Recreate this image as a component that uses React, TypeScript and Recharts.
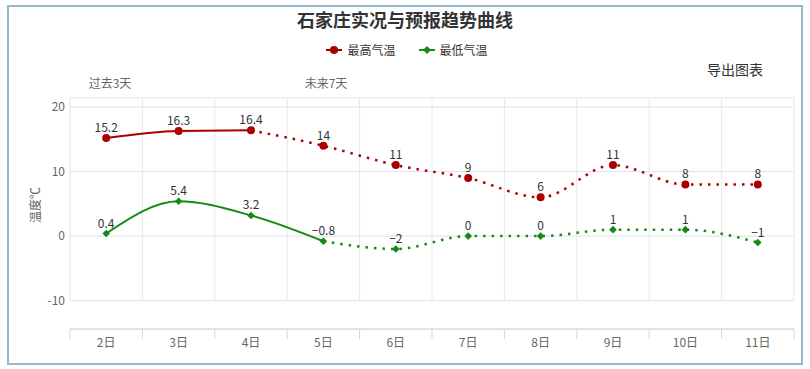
import React from 'react';
import { LineChart, Line, XAxis, YAxis, CartesianGrid, ReferenceLine, LabelList } from 'recharts';

const days = ['2日', '3日', '4日', '5日', '6日', '7日', '8日', '9日', '10日', '11日'];
const maxTemps = [15.2, 16.3, 16.4, 14, 11, 9, 6, 11, 8, 8];
const minTemps = [0.4, 5.4, 3.2, -0.8, -2, 0, 0, 1, 1, -1];
const maxObservedCount = 3;
const minObservedCount = 4;
const yTicks = [-10, 0, 10, 20];
const yDomain: [number, number] = [-14.4, 21.4];
const seriesNames = ['最高气温', '最低气温'];
const periodLabels = ['过去3天', '未来7天'];
const titleText = '石家庄实况与预报趋势曲线';
const yAxisTitle = '温度℃';
const exportText = '导出图表';

const RED = '#ab0000';
const GREEN = '#168a16';
const FONT = '"Noto Sans CJK SC", "Noto Sans", sans-serif';

const data = days.map((day, i) => ({
  day,
  pos: i + 0.5,
  max: maxTemps[i],
  min: minTemps[i],
  maxObs: i < maxObservedCount ? maxTemps[i] : null,
  maxFc: i >= maxObservedCount - 1 ? maxTemps[i] : null,
  minObs: i < minObservedCount ? minTemps[i] : null,
  minFc: i >= minObservedCount - 1 ? minTemps[i] : null,
}));

const boundaries = Array.from({ length: days.length + 1 }, (_, k) => k);

const fmt = (v: any) => String(v).replace('-', '\u2212');

const XTick = (props: any) => {
  const { x, y, payload, index, visibleTicksCount, width } = props;
  const half = payload && payload.offset ? payload.offset : width / visibleTicksCount / 2;
  const isLast = index === visibleTicksCount - 1;
  return (
    <g>
      <line x1={x - half} x2={x - half} y1={y} y2={y + 10} stroke="#ccd6eb" strokeWidth={1} />
      {isLast && <line x1={x + half} x2={x + half} y1={y} y2={y + 10} stroke="#ccd6eb" strokeWidth={1} />}
      <text x={x} y={y + 18} textAnchor="middle" fill="#666" fontSize={12} fontFamily={FONT}>
        {payload.value}
      </text>
    </g>
  );
};

const Diamond = (props: any) => {
  const { cx, cy } = props;
  if (cx == null || cy == null) return <g />;
  const r = 3.8;
  return <path d={`M${cx},${cy - r}L${cx + r},${cy}L${cx},${cy + r}L${cx - r},${cy}Z`} fill={GREEN} />;
};

const LegendIcon = ({ color, diamond }: { color: string; diamond?: boolean }) => (
  <svg width={16} height={10} style={{ display: 'block' }}>
    <line x1={0} x2={16} y1={5} y2={5} stroke={color} strokeWidth={2} />
    {diamond ? <path d="M8,1L12,5L8,9L4,5Z" fill={color} /> : <circle cx={8} cy={5} r={4} fill={color} />}
  </svg>
);

export default function App() {
  return (
    <div style={{ position: 'absolute', left: 0, top: 0, width: 810, height: 369, background: '#fff', fontFamily: FONT, overflow: 'hidden' }}>
      <div style={{ position: 'absolute', left: 7, top: 5, width: 796, height: 360, boxSizing: 'border-box', border: '2px solid #97b9cc' }} />
      <div style={{ position: 'absolute', left: 0, top: 0 }}>
        <LineChart width={810} height={369} data={data} margin={{ top: 98, right: 16, bottom: 10, left: 0 }}>
          <CartesianGrid vertical={false} stroke="#dde1e8" />
          <XAxis xAxisId="g" dataKey="pos" type="number" domain={[0, days.length]} hide allowDataOverflow />
          <XAxis
            dataKey="day"
            scale="band"
            height={30}
            axisLine={{ stroke: '#ccd6eb' }}
            tickLine={false}
            tickSize={0}
            tickMargin={0}
            interval={0}
            tick={<XTick />}
          />
          <YAxis
            width={70}
            domain={yDomain}
            ticks={yTicks}
            allowDataOverflow
            axisLine={false}
            tickLine={false}
            tickSize={0}
            tickMargin={5}
            tick={{ fill: '#666', fontSize: 12, fontFamily: FONT }}
          />
          {boundaries.map((k) => (
            <ReferenceLine
              key={'v' + k}
              xAxisId="g"
              segment={[{ x: k, y: yTicks[0] }, { x: k, y: yDomain[1] }]}
              stroke="#e6e8ee"
              strokeWidth={1}
              ifOverflow="visible"
            />
          ))}
          <Line type="monotone" dataKey="maxObs" stroke={RED} strokeWidth={2} dot={false} activeDot={false} isAnimationActive={false} />
          <Line type="monotone" dataKey="maxFc" stroke={RED} strokeWidth={2.5} strokeDasharray="2.5 6" dot={false} activeDot={false} isAnimationActive={false} />
          <Line type="monotone" dataKey="minObs" stroke={GREEN} strokeWidth={2} dot={false} activeDot={false} isAnimationActive={false} />
          <Line type="monotone" dataKey="minFc" stroke={GREEN} strokeWidth={2.5} strokeDasharray="2.5 6" dot={false} activeDot={false} isAnimationActive={false} />
          <Line type="monotone" dataKey="max" stroke="none" dot={{ r: 4, fill: RED, stroke: RED, strokeWidth: 0 }} activeDot={false} isAnimationActive={false}>
            <LabelList dataKey="max" position="top" offset={6} fill="#333" fontSize={12} fontFamily={FONT} formatter={fmt} />
          </Line>
          <Line type="monotone" dataKey="min" stroke="none" dot={<Diamond />} activeDot={false} isAnimationActive={false}>
            <LabelList dataKey="min" position="top" offset={6} fill="#333" fontSize={12} fontFamily={FONT} formatter={fmt} />
          </Line>
        </LineChart>
      </div>
      <div style={{ position: 'absolute', left: 0, width: 810, top: 8, textAlign: 'center', fontSize: 18, fontWeight: 'bold', color: '#333', lineHeight: '22px' }}>
        {titleText}
      </div>
      <div style={{ position: 'absolute', left: 0, width: 814, top: 42, display: 'flex', justifyContent: 'center', alignItems: 'center', fontSize: 12, color: '#333', lineHeight: '16px' }}>
        <div style={{ display: 'flex', alignItems: 'center', marginRight: 23 }}>
          <LegendIcon color={RED} />
          <span style={{ marginLeft: 5 }}>{seriesNames[0]}</span>
        </div>
        <div style={{ display: 'flex', alignItems: 'center' }}>
          <LegendIcon color={GREEN} diamond />
          <span style={{ marginLeft: 5 }}>{seriesNames[1]}</span>
        </div>
      </div>
      <div style={{ position: 'absolute', left: 707, top: 60, fontSize: 14, color: '#333', lineHeight: '18px' }}>{exportText}</div>
      <div style={{ position: 'absolute', left: 70, width: 80, top: 75, textAlign: 'center', fontSize: 12, color: '#666', lineHeight: '16px' }}>{periodLabels[0]}</div>
      <div style={{ position: 'absolute', left: 286, width: 80, top: 75, textAlign: 'center', fontSize: 12, color: '#666', lineHeight: '16px' }}>{periodLabels[1]}</div>
      <div style={{ position: 'absolute', left: 35, top: 205, transform: 'translate(-50%, -50%) rotate(-90deg)', fontSize: 12, color: '#666', whiteSpace: 'nowrap', lineHeight: '14px' }}>
        {yAxisTitle}
      </div>
    </div>
  );
}
